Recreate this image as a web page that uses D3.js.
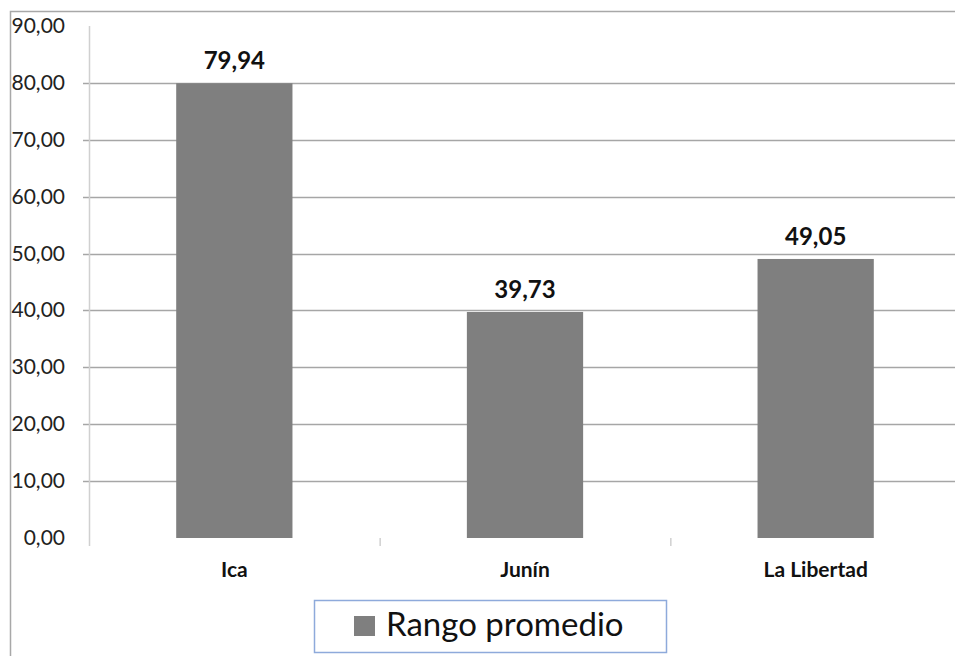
<!DOCTYPE html>
<html>
<head>
<meta charset="utf-8">
<script src="https://cdn.jsdelivr.net/npm/d3@7"></script>
<style>
  html, body { margin: 0; padding: 0; background: #fff; }
  svg { display: block; font-family: Lato, "Open Sans", sans-serif; }
</style>
</head>
<body>
<svg id="chart" width="955" height="656"></svg>
<script>
// Average range by region
const categories = ["Ica", "Junín", "La Libertad"];
const values = [79.94, 39.73, 49.05];
const yTicks = [0, 10, 20, 30, 40, 50, 60, 70, 80, 90];
const seriesName = "Rango promedio";

const fmt = v => d3.format(".2f")(v).replace(".", ",");

const svg = d3.select("#chart");
const W = 955, H = 656;

// Outer chart frame (top and left edges visible)
svg.append("path")
  .attr("d", `M10.5,${H + 2} V11.5 H${W + 2}`)
  .attr("fill", "none")
  .attr("stroke", "#a8a8a8")
  .attr("stroke-width", 1.5);

const plot = { left: 89, right: 961, top: 26, bottom: 538 };

const y = d3.scaleLinear().domain([0, 90]).range([plot.bottom, plot.top]);
const x = d3.scaleBand().domain(categories)
  .range([plot.left, plot.right])
  .paddingInner(0.6).paddingOuter(0.3);
const xEdges = d3.scaleBand().domain(categories).range([plot.left, plot.right]);

// Horizontal gridlines (0 baseline omitted, 90 omitted)
svg.append("g")
  .selectAll("line")
  .data(yTicks.filter(t => t > 0 && t < 90))
  .join("line")
  .attr("x1", plot.left - 6)
  .attr("x2", W + 2)
  .attr("y1", d => Math.round(y(d)) + 0.5)
  .attr("y2", d => Math.round(y(d)) + 0.5)
  .attr("stroke", "#a6a6a6")
  .attr("stroke-width", 1.5);

// Y axis line
svg.append("line")
  .attr("x1", plot.left + 0.5).attr("x2", plot.left + 0.5)
  .attr("y1", plot.top).attr("y2", plot.bottom + 8)
  .attr("stroke", "#d0d0d0")
  .attr("stroke-width", 1.5);

// Category separator ticks below the plot
svg.append("g")
  .selectAll("line")
  .data(categories.slice(1))
  .join("line")
  .attr("x1", d => xEdges(d) + 0.5)
  .attr("x2", d => xEdges(d) + 0.5)
  .attr("y1", plot.bottom)
  .attr("y2", plot.bottom + 8)
  .attr("stroke", "#d0d0d0")
  .attr("stroke-width", 1.5);

// Y tick labels
svg.append("g")
  .selectAll("text")
  .data(yTicks)
  .join("text")
  .attr("x", 65)
  .attr("y", d => y(d) + 7)
  .attr("text-anchor", "end")
  .attr("font-size", 21)
  .attr("fill", "#222")
  .text(fmt);

// Bars
svg.append("g")
  .selectAll("rect")
  .data(values)
  .join("rect")
  .attr("x", (d, i) => x(categories[i]))
  .attr("width", x.bandwidth())
  .attr("y", d => y(d))
  .attr("height", d => y(0) - y(d))
  .attr("fill", "#7f7f7f");

// Value labels
svg.append("g")
  .selectAll("text")
  .data(values)
  .join("text")
  .attr("x", (d, i) => x(categories[i]) + x.bandwidth() / 2)
  .attr("y", d => y(d) - 14)
  .attr("text-anchor", "middle")
  .attr("font-size", 24)
  .attr("font-weight", "bold")
  .attr("fill", "#111")
  .text(fmt);

// Category labels
svg.append("g")
  .selectAll("text")
  .data(categories)
  .join("text")
  .attr("x", d => x(d) + x.bandwidth() / 2)
  .attr("y", 577)
  .attr("text-anchor", "middle")
  .attr("font-size", 21)
  .attr("font-weight", "bold")
  .attr("fill", "#111")
  .text(d => d);

// Legend
const legend = svg.append("g");
legend.append("rect")
  .attr("x", 314.5).attr("y", 600.5)
  .attr("width", 352).attr("height", 52)
  .attr("fill", "#fff")
  .attr("stroke", "#8eaadb")
  .attr("stroke-width", 1.5);
legend.append("rect")
  .attr("x", 354).attr("y", 616)
  .attr("width", 21).attr("height", 20)
  .attr("fill", "#7f7f7f");
legend.append("text")
  .attr("x", 386).attr("y", 636)
  .attr("font-size", 33)
  .attr("fill", "#111")
  .text(seriesName);
</script>
</body>
</html>
